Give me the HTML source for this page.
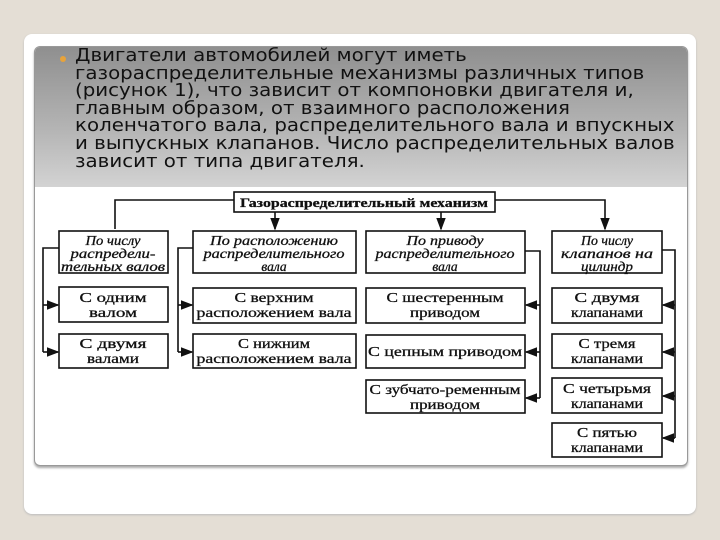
<!DOCTYPE html>
<html><head><meta charset="utf-8"><style>
body{margin:0;width:720px;height:540px;background:#e4ded5;overflow:hidden;position:relative;font-family:"DejaVu Sans","Liberation Sans",sans-serif}
.card{position:absolute;left:24px;top:34px;width:672px;height:480px;background:#fff;border-radius:8px;box-shadow:0 1px 2px #bbb}
.panel{position:absolute;left:34px;top:46px;width:652px;height:418px;background:#fff;border:1px solid #999;border-radius:6px;overflow:hidden;box-shadow:0 2px 2px #aaa}
.grad{position:absolute;left:0;top:0;width:100%;height:140px;background:linear-gradient(#8f8f8f,#b5b5b5 60%,#d3d3d3)}
.txt{position:absolute;left:40px;top:0px;font-size:18px;line-height:17.6px;color:#111;transform:scaleX(1.1);transform-origin:0 0;white-space:nowrap}
.bul{position:absolute;left:25px;top:9px;width:6px;height:6px;border-radius:50%;background:#e8a33a}
svg{position:absolute;left:0;top:0}
</style></head><body>
<div class="card"></div>
<div class="panel"><div class="grad"></div><div class="bul"></div>
<div class="txt">Двигатели автомобилей могут иметь<br>газораспределительные механизмы различных типов<br>(рисунок 1), что зависит от компоновки двигателя и,<br>главным образом, от взаимного расположения<br>коленчатого вала, распределительного вала и впускных<br>и выпускных клапанов. Число распределительных валов<br>зависит от типа двигателя.</div></div>
<svg width="720" height="540" font-family="Liberation Serif,serif" font-size="14" fill="none" stroke="#111" stroke-width="1.6">
<defs><marker id="a" markerWidth="8" markerHeight="6" refX="7" refY="3" orient="auto"><path d="M0,0L8,3L0,6z" fill="#111" stroke="none"/></marker></defs>
<rect x="234" y="192" width="261" height="20"/>
<path d="M234,200H115V229M495,200H605V229" marker-end="url(#a)"/>
<path d="M275,212V229" marker-end="url(#a)"/>
<path d="M441,212V229" marker-end="url(#a)"/>
<g>
<rect x="59" y="231" width="109" height="42"/><rect x="193" y="231" width="163" height="42"/><rect x="366" y="231" width="159" height="42"/><rect x="552" y="231" width="110" height="42"/>
<rect x="59" y="287" width="109" height="35"/><rect x="59" y="334" width="109" height="34"/>
<rect x="193" y="288" width="163" height="35"/><rect x="193" y="334" width="163" height="34"/>
<rect x="366" y="288" width="159" height="35"/><rect x="366" y="335" width="159" height="33"/><rect x="366" y="380" width="159" height="33"/>
<rect x="552" y="288" width="110" height="35"/><rect x="552" y="334" width="110" height="34"/><rect x="552" y="378" width="110" height="35"/><rect x="552" y="423" width="110" height="34"/>
</g>
<path d="M59,248H43V352"/><path d="M43,305H58" marker-end="url(#a)"/><path d="M43,352H58" marker-end="url(#a)"/>
<path d="M193,248H178V352"/><path d="M178,305H192" marker-end="url(#a)"/><path d="M178,352H192" marker-end="url(#a)"/>
<path d="M525,251H540V398"/><path d="M540,305H526" marker-end="url(#a)"/><path d="M540,352H526" marker-end="url(#a)"/><path d="M540,398H526" marker-end="url(#a)"/>
<path d="M662,250H675V438"/><path d="M675,305H663" marker-end="url(#a)"/><path d="M675,352H663" marker-end="url(#a)"/><path d="M675,396H663" marker-end="url(#a)"/><path d="M675,438H663" marker-end="url(#a)"/>
<g fill="#111" stroke="#111" stroke-width="0.3" text-anchor="middle" lengthAdjust="spacingAndGlyphs">
<text x="364" y="207" font-weight="bold" font-size="13" textLength="248" lengthAdjust="spacingAndGlyphs">Газораспределительный механизм</text>
<g font-style="italic" font-size="13.5">
<text x="113" y="245" textLength="55" lengthAdjust="spacingAndGlyphs">По числу</text><text x="113" y="258" textLength="85" lengthAdjust="spacingAndGlyphs">распредели-</text><text x="113" y="271" textLength="104" lengthAdjust="spacingAndGlyphs">тельных валов</text>
<text x="274" y="245" textLength="128" lengthAdjust="spacingAndGlyphs">По расположению</text><text x="274" y="258" textLength="141" lengthAdjust="spacingAndGlyphs">распределительного</text><text x="274" y="271">вала</text>
<text x="445" y="245" textLength="77" lengthAdjust="spacingAndGlyphs">По приводу</text><text x="445" y="258" textLength="139" lengthAdjust="spacingAndGlyphs">распределительного</text><text x="445" y="271">вала</text>
<text x="607" y="245" textLength="52" lengthAdjust="spacingAndGlyphs">По числу</text><text x="607" y="258" textLength="92" lengthAdjust="spacingAndGlyphs">клапанов на</text><text x="607" y="271" textLength="52" lengthAdjust="spacingAndGlyphs">цилиндр</text>
</g>
<text x="113" y="302" textLength="67" lengthAdjust="spacingAndGlyphs">С одним</text><text x="113" y="317" textLength="48" lengthAdjust="spacingAndGlyphs">валом</text>
<text x="113" y="348" textLength="67" lengthAdjust="spacingAndGlyphs">С двумя</text><text x="113" y="363" textLength="52" lengthAdjust="spacingAndGlyphs">валами</text>
<text x="274" y="302" textLength="79" lengthAdjust="spacingAndGlyphs">С верхним</text><text x="274" y="317" textLength="155" lengthAdjust="spacingAndGlyphs">расположением вала</text>
<text x="274" y="348" textLength="72" lengthAdjust="spacingAndGlyphs">С нижним</text><text x="274" y="363" textLength="155" lengthAdjust="spacingAndGlyphs">расположением вала</text>
<text x="445" y="302" textLength="117" lengthAdjust="spacingAndGlyphs">С шестеренным</text><text x="445" y="317" textLength="70" lengthAdjust="spacingAndGlyphs">приводом</text>
<text x="445" y="356" textLength="154" lengthAdjust="spacingAndGlyphs">С цепным приводом</text>
<text x="445" y="394" textLength="151" lengthAdjust="spacingAndGlyphs">С зубчато-ременным</text><text x="445" y="409" textLength="70" lengthAdjust="spacingAndGlyphs">приводом</text>
<text x="607" y="302" textLength="65" lengthAdjust="spacingAndGlyphs">С двумя</text><text x="607" y="317" textLength="72" lengthAdjust="spacingAndGlyphs">клапанами</text>
<text x="607" y="348" textLength="57" lengthAdjust="spacingAndGlyphs">С тремя</text><text x="607" y="363" textLength="72" lengthAdjust="spacingAndGlyphs">клапанами</text>
<text x="607" y="393" textLength="88" lengthAdjust="spacingAndGlyphs">С четырьмя</text><text x="607" y="408" textLength="72" lengthAdjust="spacingAndGlyphs">клапанами</text>
<text x="607" y="437" textLength="60" lengthAdjust="spacingAndGlyphs">С пятью</text><text x="607" y="452" textLength="72" lengthAdjust="spacingAndGlyphs">клапанами</text>
</g>
</svg>
</body></html>
